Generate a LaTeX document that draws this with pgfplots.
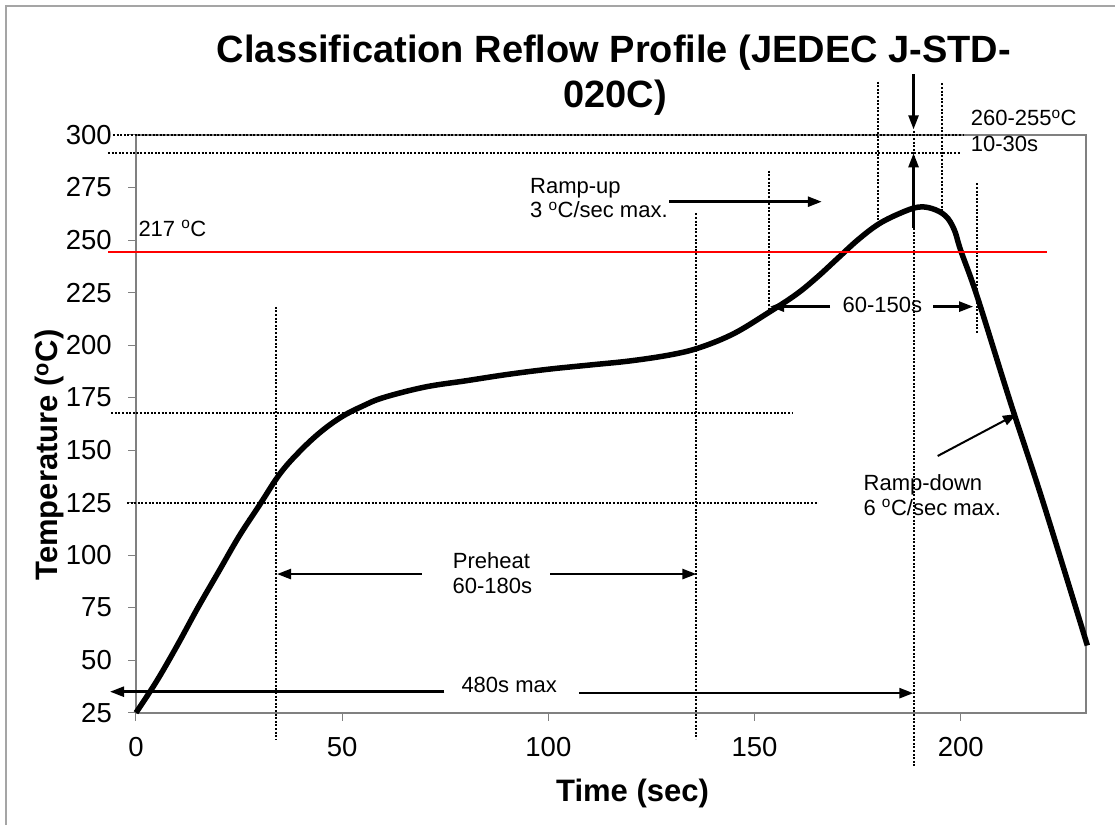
\documentclass[border=0pt]{standalone}
\usepackage{fontspec}
\setmainfont{Liberation Sans}
\usepackage{pgfplots}
\pgfplotsset{compat=1.18}
\usetikzlibrary{arrows.meta}
\definecolor{axisgray}{RGB}{128,128,128}
\definecolor{framegray}{RGB}{165,165,165}
\tikzset{
  dotl/.style={black, line width=2pt, dash pattern=on 2pt off 1.6pt},
  arr/.style={black, line width=2.5pt, -{Triangle[length=14pt,width=10pt]}},
  ann/.style={font=\fontsize{22}{26}\selectfont, inner sep=0pt},
}
\begin{document}
\begin{tikzpicture}
\begin{axis}[
  at={(0pt,0pt)}, anchor=south west,
  scale only axis, width=949.7pt, height=577.7pt,
  xmin=0, xmax=230.3, ymin=25, ymax=300,
  xtick={0,50,100,150,200}, ytick={25,50,...,300},
  tick pos=left,
  tick align=outside, major tick length=8pt,
  tick style={draw=axisgray, line width=1pt},
  axis line style={draw=axisgray, line width=2pt},
  /pgf/number format/assume math mode=true,
  tick label style={font=\fontsize{27.5}{31}\selectfont},
  xticklabel style={inner sep=0pt, yshift=-16pt},
  yticklabel style={inner sep=0pt, xshift=-16pt},
  clip=false,
  xlabel={Time (sec)},
  xlabel style={font=\bfseries\fontsize{31}{36}\selectfont, at={(axis description cs:0.5228,-0.1541)}, anchor=base, inner sep=0pt},
  ylabel={Temperature (\textsuperscript{o}C)},
  ylabel style={font=\bfseries\fontsize{31}{36}\selectfont, at={(axis description cs:-0.08266,0.446)}, anchor=base, inner sep=0pt},
]
% reflow profile
\addplot[black, line width=5.5pt, smooth, tension=0.6] coordinates {
 (0,25) (5,40) (10,57) (15,75) (20,92) (25,109) (30,124) (35,139) (40,150)
 (45,159) (50,166) (55,171) (60,175) (70,180) (80,183) (90,186) (100,188.5)
 (110,190.5) (120,192.5) (130,195.5) (137,199) (145,205.5) (153,215)
 (160,224) (165,232) (170,241) (175,250) (180,257.5) (185,262.5)
 (189.5,265.6) (193,265) (196.3,261.5) (198.4,255) (200,245) (204,223)
 (212,173) (220,125) (230.7,57)
};
% horizontal dotted guides
\draw[dotl] (axis cs:-5.58,300) -- (axis cs:200.6,300);
\draw[dotl] (axis cs:-6.79,291.3) -- (axis cs:199.8,291.3);
\draw[dotl] (axis cs:-6.0,167.5) -- (axis cs:159.3,167.5);
\draw[dotl] (axis cs:-2.2,124.7) -- (axis cs:165.4,124.7);
% vertical dotted guides
\draw[dotl] (axis cs:34.0,218.2) -- (axis cs:34.0,12.5);
\draw[dotl] (axis cs:135.9,262.7) -- (axis cs:135.9,12.5);
\draw[dotl] (axis cs:153.6,283) -- (axis cs:153.6,216.7);
\draw[dotl] (axis cs:179.9,325.4) -- (axis cs:179.9,258.7);
\draw[dotl] (axis cs:188.55,302) -- (axis cs:188.55,-1.3);
\draw[dotl] (axis cs:195.5,324.6) -- (axis cs:195.5,263.5);
\draw[dotl] (axis cs:203.95,277) -- (axis cs:203.95,205.9);
% red 217 line
\draw[draw=red, line width=1.8pt] (axis cs:-6.79,244.45) -- (axis cs:220.85,244.45);
% arrows
\draw[arr] (axis cs:188.55,329) -- (axis cs:188.55,302.7);
\draw[arr] (axis cs:188.55,255.9) -- (axis cs:188.55,291.3);
\draw[arr] (axis cs:129.3,268.25) -- (axis cs:166.3,268.25);
\draw[arr] (axis cs:168.3,218.3) -- (axis cs:153.75,218.3);
\draw[arr] (axis cs:193.3,218.3) -- (axis cs:203.0,218.3);
\draw[arr, line width=2pt] (axis cs:194.4,147.2) -- (axis cs:213.6,167.2);
\draw[arr] (axis cs:69.3,91.0) -- (axis cs:34.2,91.0);
\draw[arr] (axis cs:100.4,91.0) -- (axis cs:135.9,91.0);
\draw[arr] (axis cs:74.8,35.0) -- (axis cs:-6.3,35.0);
\draw[arr] (axis cs:107.4,34.3) -- (axis cs:188.5,34.3);
% annotation texts
\node[ann, anchor=base west] at (axis cs:0.56,251.9) {217 \textsuperscript{o}C};
\node[ann, anchor=base west] at (axis cs:95.55,272.25) {Ramp-up};
\node[ann, anchor=base west] at (axis cs:95.55,260.63) {3 \textsuperscript{o}C/sec max.};
\node[ann, anchor=base west] at (axis cs:176.4,131.0) {Ramp-down};
\node[ann, anchor=base west] at (axis cs:176.4,119.1) {6 \textsuperscript{o}C/sec max.};
\node[ann, anchor=base west] at (axis cs:202.4,304.4) {260-255\textsuperscript{o}C};
\node[ann, anchor=base west] at (axis cs:202.4,292.05) {10-30s};
\node[ann, anchor=base] at (axis cs:181.0,215.4) {60-150s};
\node[ann, anchor=base] at (axis cs:86.2,93.7) {Preheat};
\node[ann, anchor=base] at (axis cs:86.4,81.8) {60-180s};
\node[ann, anchor=base] at (axis cs:90.5,34.5) {480s max};
% title
\node[font=\bfseries\fontsize{38}{45}\selectfont, anchor=base, inner sep=0pt] at (axis cs:115.9,334.5) {Classification Reflow Profile (JEDEC J-STD-};
\node[font=\bfseries\fontsize{38}{45}\selectfont, anchor=base, inner sep=0pt] at (axis cs:116.2,313.3) {020C)};
\end{axis}
\draw[framegray, line width=1.5pt] (-130pt,-112.3pt) -- (-130pt,706.7pt) -- (979pt,706.7pt);
\pgfresetboundingbox
\useasboundingbox (-136pt,-112.3pt) rectangle (979pt,712.7pt);
\end{tikzpicture}
\end{document}
